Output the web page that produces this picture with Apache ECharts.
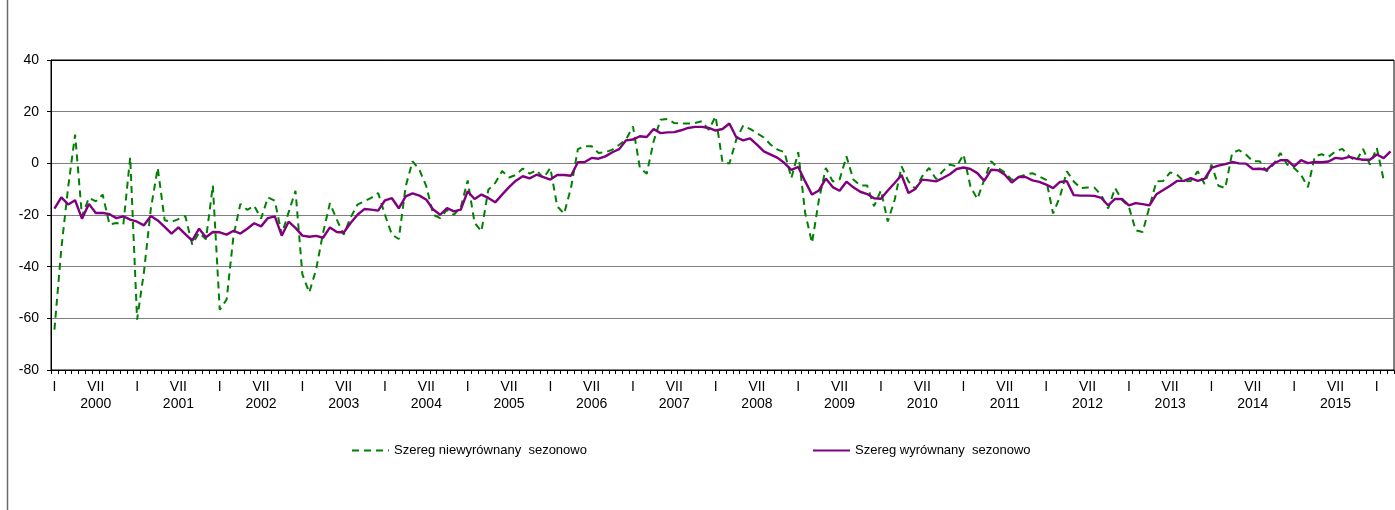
<!DOCTYPE html>
<html>
<head>
<meta charset="utf-8">
<script src="https://cdn.jsdelivr.net/npm/echarts@6/dist/echarts.min.js"></script>
<style>
html,body{margin:0;padding:0;background:#fff;}
#chart{width:1395px;height:510px;}
</style>
</head>
<body>
<div id="chart"></div>
<script>
// ---- data ----
const years = [2000,2001,2002,2003,2004,2005,2006,2007,2008,2009,2010,2011,2012,2013,2014,2015,2016];
const monthNumerals = ['I','II','III','IV','V','VI','VII','VIII','IX','X','XI','XII'];
const monthCount = 195; // I 2000 – III 2016

const seriesNames = ['Szereg niewyrównany  sezonowo', 'Szereg wyrównany  sezonowo'];

const unadjusted = [
-64.4,-33,-9,11.1,-20.5,-13.4,-14.7,-12.1,-23.7,-23.1,-23.7,2.3,
-60.5,-42,-17.5,-1.8,-22,-22.7,-21.6,-20.4,-31.4,-26.9,-29.4,-8.6,
-56.7,-52.7,-28,-15.7,-18,-16.4,-21.4,-13.2,-14.5,-27.5,-19,-10.6,
-43,-50,-41,-27,-15.4,-21.8,-27.6,-21,-16,-14.7,-13.4,-11.5,
-20,-27.6,-29.3,-8.9,0.8,-2.5,-8.9,-19.9,-21.2,-18,-19.9,-17,
-6.6,-23,-26.3,-10.2,-7.6,-3,-5.5,-4.5,-2,-4,-2.7,-5.7,
-1.8,-16.6,-19.5,-9.5,5.5,6.6,6.6,4.0,4.3,5.3,7.2,9.2,
14.3,-1.8,-4.0,8.5,16.9,17.2,15.6,15.4,15.4,15.6,16.3,13.0,
18.2,0.5,-0.1,9.2,14.6,13.3,11.7,10,7.2,5.3,4.3,-5.7,
4.3,-19.2,-30.8,-14.1,-1.8,-7.0,-6.3,2.7,-6.3,-8.6,-8.6,-16.6,
-10.5,-22.5,-14.1,-1.2,-7.0,-9.9,-5.0,-1.8,-6.1,-3,-0.5,-1.2,
3.4,-9.0,-13.8,-6.4,0.8,-1.8,-3.5,-6.4,-5.3,-4.4,-3.8,-5.1,
-6.4,-19.4,-12.9,-3.1,-7.0,-9.6,-9.4,-9.4,-12.3,-17.5,-9.6,-14.2,
-16.8,-25.9,-26.6,-16.8,-7,-6.8,-3.5,-4.4,-7.0,-6.8,-3.1,-8.0,
-0.5,-8.7,-9.6,4.0,5.1,3.4,0.8,0.8,-3.1,-0.5,4.0,-0.5,
-1.8,-4.4,-9.3,2.7,3.5,2.5,4.7,5.6,2.7,0.8,5.6,-0.5,
6.0,-6.4,null
];

const adjusted = [
-17.5,-13.2,-15.9,-14.3,-21.4,-15.7,-19.2,-19.2,-19.7,-21.2,-20.5,-21.8,
-22.6,-24.0,-20.4,-22.1,-24.6,-27.2,-24.8,-27.4,-29.9,-25.3,-28.6,-26.6,
-26.7,-27.6,-26.1,-27.2,-25.3,-23.2,-24.4,-21.2,-20.5,-28.0,-22.6,-25.0,
-28.0,-28.4,-28.1,-28.8,-24.8,-26.6,-26.8,-23.1,-19.9,-17.7,-17.9,-18.3,
-14.3,-13.5,-17.4,-12.8,-11.6,-12.5,-14.1,-17.9,-19.9,-17.3,-18.6,-17.9,
-10.8,-13.8,-12.1,-13.4,-15.1,-12.1,-9.2,-6.7,-5.0,-5.8,-4.4,-5.3,
-6.3,-4.5,-4.5,-4.8,0.4,0.5,2.1,1.8,2.7,4.3,5.5,8.9,
9.2,10.5,10.2,13.3,11.7,12.0,12.1,12.8,13.7,14.1,14.1,13.7,
12.7,13.3,15.4,10.1,8.9,9.7,7.2,4.6,3.4,2.1,0.1,-2.5,
-1.4,-7.0,-12.1,-10.5,-5.9,-9.2,-10.6,-7.1,-9.3,-11.0,-11.9,-13.5,
-13.7,-10.5,-7.6,-4.5,-11.5,-9.9,-6.3,-6.6,-7.0,-5.7,-4.2,-2.2,
-1.6,-2.2,-3.8,-6.8,-2.5,-2.7,-4.4,-7.4,-5.3,-5.3,-6.6,-7.2,
-8.2,-9.6,-7.2,-6.9,-12.3,-12.5,-12.5,-12.6,-13.4,-16.3,-13.8,-13.8,
-16.3,-15.4,-15.8,-16.3,-12.0,-10.3,-8.7,-6.8,-6.8,-5.7,-6.8,-6.0,
-1.8,-0.9,-0.3,0.5,0.0,-0.1,-2.2,-2.1,-2.5,-0.1,1.2,1.2,
-1.2,1.2,0.1,0.5,0.4,0.7,2.1,1.8,2.5,1.8,1.4,1.4,
3.4,2.0,4.6
];

const yTicks = [-80,-60,-40,-20,0,20,40];

// categories built from years x months
const categories = [];
for (const y of years) for (let m = 0; m < 12; m++) {
  if (categories.length < monthCount) categories.push(y + '-' + (m + 1));
}

const FONT = "'Liberation Sans', Arial, sans-serif";
const chart = echarts.init(document.getElementById('chart'), null, {renderer: 'canvas'});

const legendBase = {
  top: 444, itemWidth: 37, itemHeight: 14, itemGap: 0, padding: 0,
  itemStyle: {opacity: 0, borderWidth: 0},
  textStyle: {fontFamily: FONT, fontSize: 13, color: '#000'}
};

chart.setOption({
  animation: false,
  backgroundColor: '#fff',
  textStyle: {fontFamily: FONT},
  grid: {left: 51, right: 1, top: 60, bottom: 140, show: true, borderColor: '#000', borderWidth: 1, backgroundColor: 'transparent'},
  graphic: [{
    type: 'line', shape: {x1: 7.5, y1: 0, x2: 7.5, y2: 510},
    style: {stroke: '#6a6a6a', lineWidth: 1.5}, silent: true
  }],
  legend: [
    Object.assign({data: [seriesNames[0]], left: 351}, legendBase),
    Object.assign({data: [seriesNames[1]], left: 812}, legendBase)
  ],
  xAxis: {
    type: 'category',
    data: categories,
    boundaryGap: true,
    axisLine: {onZero: false, lineStyle: {color: '#000', width: 1}},
    axisTick: {show: true, interval: 0, length: 4, lineStyle: {color: '#000'}},
    axisLabel: {
      interval: function (index) { return index % 6 === 0; },
      formatter: function (value, index) {
        const m = index % 12;
        const y = years[Math.floor(index / 12)];
        if (m === 0) return monthNumerals[0];
        if (m === 6) return monthNumerals[6] + '\n' + y;
        return '';
      },
      fontFamily: FONT, fontSize: 14, color: '#000', lineHeight: 16.5, margin: 9
    },
    splitLine: {show: false}
  },
  yAxis: {
    type: 'value',
    min: -80, max: 40, interval: 20,
    axisLine: {show: true, lineStyle: {color: '#000', width: 1}},
    axisTick: {show: true, length: 4, lineStyle: {color: '#000'}},
    axisLabel: {fontFamily: FONT, fontSize: 14, color: '#000', margin: 12,
      formatter: function (v) { return yTicks.indexOf(v) >= 0 ? String(v) : ''; }},
    splitLine: {show: true, lineStyle: {color: ['#000','#808080','#808080','#808080','#808080','#808080','#000'], width: 1.2}}
  },
  series: [
    {
      name: seriesNames[0], type: 'line', data: unadjusted, symbol: 'none',
      lineStyle: {color: '#008000', width: 2, type: [7, 5]},
      itemStyle: {color: '#008000'}, z: 2
    },
    {
      name: seriesNames[1], type: 'line', data: adjusted, symbol: 'none',
      lineStyle: {color: '#800080', width: 2.4},
      itemStyle: {color: '#800080'}, z: 3
    }
  ]
});
</script>
</body>
</html>
